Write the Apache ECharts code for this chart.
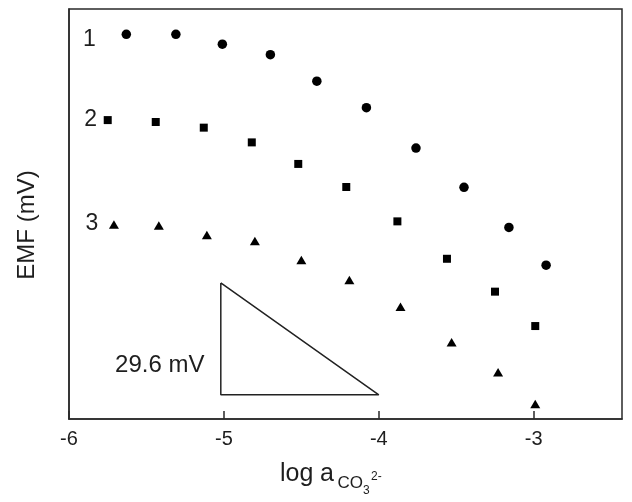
<!DOCTYPE html>
<html>
<head>
<meta charset="utf-8">
<script src="https://cdn.jsdelivr.net/npm/echarts@6/dist/echarts.min.js"></script>
<style>
  html, body { margin: 0; padding: 0; background: #fff; }
  #chart { width: 632px; height: 502px; }
</style>
</head>
<body>
<div id="chart"></div>
<script>
// log a(CO3 2-) values and EMF (mV, relative) for the three electrodes
const curveNames = ['1', '2', '3'];
const series1X = [-5.63, -5.31, -5.01, -4.70, -4.40, -4.08, -3.76, -3.45, -3.16, -2.92];
const series1Y = [101.8, 101.8, 99.2, 96.4, 89.4, 82.4, 71.7, 61.3, 50.7, 40.7];
const series2X = [-5.75, -5.44, -5.13, -4.82, -4.52, -4.21, -3.88, -3.56, -3.25, -2.99];
const series2Y = [79.1, 78.6, 77.1, 73.2, 67.5, 61.4, 52.3, 42.4, 33.7, 24.6];
const series3X = [-5.71, -5.42, -5.11, -4.80, -4.50, -4.19, -3.86, -3.53, -3.23, -2.99];
const series3Y = [51.5, 51.2, 48.7, 47.1, 42.1, 36.8, 29.7, 20.3, 12.4, 4.0];

// slope triangle: one decade, 29.6 mV
const slopeBarX = [-5.02, -4.0];
const slopeBarY = [6.4, 36.0];
const slopeText = '29.6 mV';

const xTicks = [-6, -5, -4, -3];

const ink = '#1e1e1e';
const font = 'Liberation Sans, Arial, sans-serif';

function pairs(xs, ys) {
  return xs.map((x, i) => [x, ys[i]]);
}

// put the curve number next to its first point
function withTag(data, name, offset) {
  data[0] = {
    value: data[0],
    label: {
      show: true,
      formatter: name,
      position: 'inside',
      offset: offset,
      fontSize: 23,
      color: ink,
      fontFamily: font
    }
  };
  return data;
}

const chart = echarts.init(document.getElementById('chart'), null, { renderer: 'canvas' });

const option = {
  backgroundColor: '#fff',
  animation: false,
  grid: {
    left: 69, right: 10, top: 9, bottom: 83,
    show: true,
    borderColor: '#2a2a2a',
    borderWidth: 1.5
  },
  xAxis: {
    type: 'value',
    min: xTicks[0],
    max: -2.43,
    interval: 1,
    axisLine: { show: true, onZero: false, lineStyle: { color: '#2a2a2a', width: 1.5 } },
    axisTick: { show: true, inside: true, length: 8, lineStyle: { color: '#2a2a2a', width: 1.5 } },
    axisLabel: {
      fontSize: 20, color: ink, fontFamily: font, margin: 10,
      showMaxLabel: false,
      formatter: v => (xTicks.indexOf(v) >= 0 ? String(v) : '')
    },
    splitLine: { show: false }
  },
  yAxis: {
    type: 'value',
    min: 0,
    max: 108.5,
    axisLine: { show: true, lineStyle: { color: '#2a2a2a', width: 1.5 } },
    axisTick: { show: false },
    axisLabel: { show: false },
    splitLine: { show: false }
  },
  graphic: [
    {
      type: 'text', x: 27.5, y: 225, rotation: Math.PI / 2,
      style: { text: 'EMF (mV)', fontSize: 24, fontFamily: font, fill: ink, align: 'center', verticalAlign: 'middle' }
    },
    {
      type: 'text', x: 280, y: 474.5,
      style: { text: 'log', fontSize: 25, fontFamily: font, fill: ink, align: 'left', verticalAlign: 'middle' }
    },
    {
      type: 'text', x: 320, y: 474.5,
      style: { text: 'a', fontSize: 25, fontFamily: font, fill: ink, align: 'left', verticalAlign: 'middle' }
    },
    {
      type: 'text', x: 337.5, y: 483,
      style: { text: 'CO', fontSize: 17, fontFamily: font, fill: ink, align: 'left', verticalAlign: 'middle' }
    },
    {
      type: 'text', x: 363, y: 490.5,
      style: { text: '3', fontSize: 12, fontFamily: font, fill: ink, align: 'left', verticalAlign: 'middle' }
    },
    {
      type: 'text', x: 371, y: 476.5,
      style: { text: '2-', fontSize: 12, fontFamily: font, fill: ink, align: 'left', verticalAlign: 'middle' }
    }
  ],
  series: [
    {
      name: curveNames[0],
      type: 'scatter',
      symbol: 'circle',
      symbolSize: 9.5,
      itemStyle: { color: '#000', opacity: 1 },
      data: withTag(pairs(series1X, series1Y), curveNames[0], [-37, 5])
    },
    {
      name: curveNames[1],
      type: 'scatter',
      symbol: 'rect',
      symbolSize: 8,
      itemStyle: { color: '#000', opacity: 1 },
      data: withTag(pairs(series2X, series2Y), curveNames[1], [-17, 0])
    },
    {
      name: curveNames[2],
      type: 'scatter',
      symbol: 'triangle',
      symbolSize: [10, 8.5],
      itemStyle: { color: '#000', opacity: 1 },
      data: withTag(pairs(series3X, series3Y), curveNames[2], [-22, -1])
    },
    {
      name: 'slope',
      type: 'line',
      symbol: 'none',
      lineStyle: { color: '#222', width: 1.5 },
      data: [
        [slopeBarX[0], slopeBarY[1]],
        [slopeBarX[0], slopeBarY[0]],
        [slopeBarX[1], slopeBarY[0]],
        [slopeBarX[0], slopeBarY[1]]
      ]
    },
    {
      name: 'slopeText',
      type: 'scatter',
      symbolSize: 0,
      silent: true,
      itemStyle: { opacity: 1 },
      label: {
        show: true,
        formatter: slopeText,
        position: 'inside',
        offset: [-61, -29],
        fontSize: 24,
        color: ink,
        fontFamily: font
      },
      data: [[slopeBarX[0], slopeBarY[0]]]
    }
  ]
};

chart.setOption(option);
</script>
</body>
</html>
